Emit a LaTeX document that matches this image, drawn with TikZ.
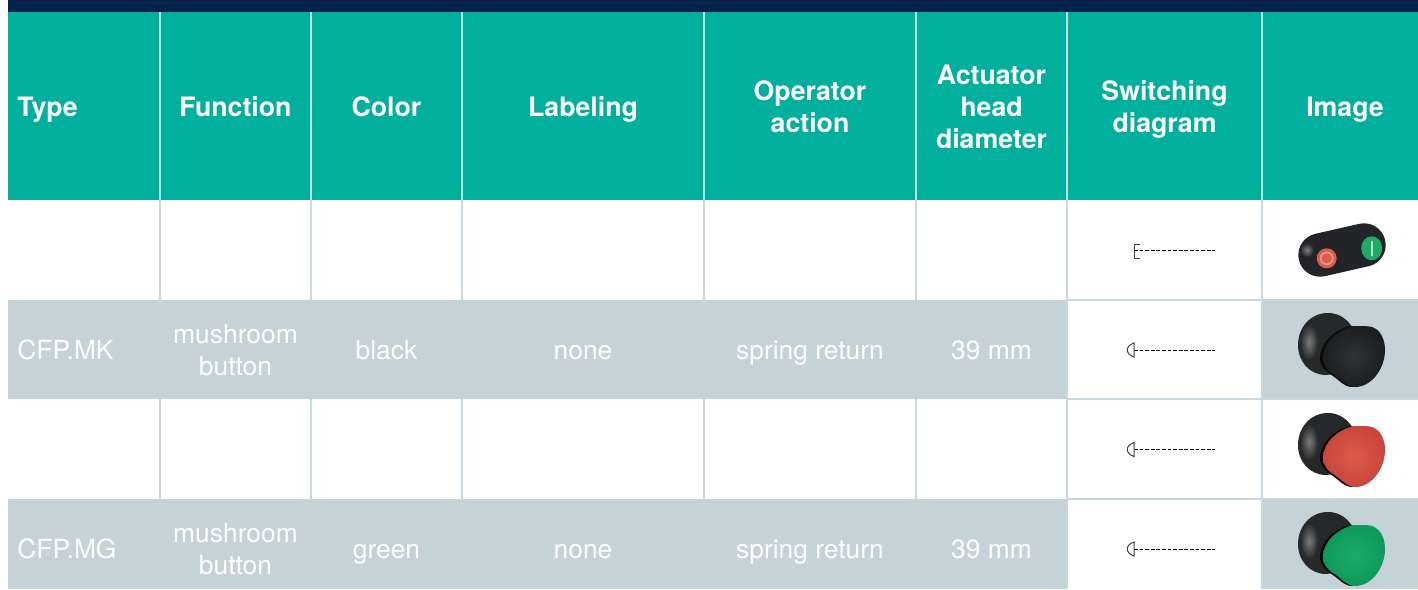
\documentclass[tikz,border=0pt]{standalone}
\usepackage{fontspec}
\setmainfont{TeX Gyre Heros}
\usetikzlibrary{calc}
\definecolor{navy}{HTML}{00234A}
\definecolor{teal1}{HTML}{00B09D}
\definecolor{rowgray}{HTML}{C5D3D9}
\definecolor{gridc}{HTML}{C9D8DE}
\definecolor{capblack}{HTML}{222427}
\definecolor{redA}{HTML}{C9453A}
\definecolor{redB}{HTML}{DB5C4C}
\definecolor{greenA}{HTML}{0E995A}
\definecolor{greenB}{HTML}{1FAA68}
\definecolor{blackA}{HTML}{1C1D1F}
\definecolor{blackB}{HTML}{303235}
\definecolor{rearc}{HTML}{26282A}
\tikzset{
  x=0.5pt,y=-0.5pt,
  head/.style={font=\fontsize{13.35}{16}\selectfont\bfseries,text=white,align=center,inner sep=0pt},
  cell/.style={font=\fontsize{13.2}{16}\selectfont,text=white,align=center,inner sep=0pt},
  grid/.style={gridc,line width=0.6pt},
  sw/.style={black,line width=0.45pt,dash pattern=on 1.9pt off 0.9pt},
  sym/.style={black!75,line width=0.5pt},
}
\newcommand{\cappath}{(283,26) .. controls (292,26) and (298,26) .. (302,27)
    .. controls (311,30) and (315,40) .. (315,50)
    .. controls (315,68) and (302,87) .. (285,87)
    .. controls (277,87) and (272,80) .. (266,76)
    .. controls (258,71) and (253,66) .. (253,58)
    .. controls (253,42) and (268,30) .. (283,26) -- cycle}
\newcommand{\mushroom}[3]{% y offset, cap outer, cap inner
\begin{scope}[shift={(1070,#1)}]
  \fill[rearc]
    (258,13) .. controls (240,13) and (228,28) .. (228,45)
    .. controls (228,62) and (240,75) .. (256,75)
    .. controls (270,75) and (284,62) .. (286,45)
    .. controls (288,30) and (276,13) .. (258,13) -- cycle;
  \shade[inner color=black!52,outer color=rearc] (239,42) ellipse[x radius=9,y radius=18];
  \fill[black!96,shift={(-3,0)}] \cappath;
  \shade[inner color=#3,outer color=#2] \cappath;
\end{scope}}
\begin{document}
\begin{tikzpicture}
\useasboundingbox (0,0) rectangle (1418,589);
\fill[white] (0,0) rectangle (1418,589);
% bands
\node[fill=navy,inner sep=0pt,minimum width=705pt,minimum height=6pt,anchor=north west] (topband) at (8,0) {};
\node[fill=teal1,inner sep=0pt,minimum width=705pt,minimum height=94pt,anchor=north west] (headband) at (8,12) {};
\node[fill=rowgray,inner sep=0pt,minimum width=529.5pt,minimum height=49.5pt,anchor=north west] (rowA) at (8,300) {};
\node[fill=rowgray,inner sep=0pt,minimum width=529.5pt,minimum height=45pt,anchor=north west] (rowB) at (8,499) {};
\node[fill=rowgray,inner sep=0pt,minimum width=78pt,minimum height=49.5pt,anchor=north west] (imgA) at (1262,300) {};
\node[fill=rowgray,inner sep=0pt,minimum width=78pt,minimum height=45pt,anchor=north west] (imgB) at (1262,499) {};
% grid
\foreach \x in {160,311,462,704,916,1067,1262}{
  \draw[white!75!teal1,line width=0.6pt] (\x,12) -- (\x,200);
}
\foreach \x in {160,311,462,704,916}{
  \draw[grid] (\x,200) -- (\x,300);
  \draw[grid] (\x,399) -- (\x,499);
}
\draw[grid] (1067,200) -- (1067,589);
\draw[grid] (1262,200) -- (1262,589);
\draw[grid] (1067,300) -- (1418,300);
\draw[grid] (1067,399) -- (1418,399);
\draw[grid] (1067,499) -- (1418,499);
% header
\node[head,anchor=base west] (hType) at (17,116) {Type};
\node[head,anchor=base] (hFunc) at (235.5,116) {Function};
\node[head,anchor=base] (hColor) at (386.5,116) {Color};
\node[head,anchor=base] (hLab) at (583,116) {Labeling};
\node[head] (hOp) at (810,107) {Operator\\action};
\node[head] (hAct) at (991.5,107) {Actuator\\head\\diameter};
\node[head] (hSw) at (1164.5,109) {Switching\\diagram};
\node[head,anchor=base] (hImg) at (1345,116) {Image};
% row A
\node[cell,anchor=base west] (aType) at (17,359) {CFP.MK};
\node[cell] (aFunc) at (235.5,350) {mushroom\\button};
\node[cell,anchor=base] (aColor) at (386.5,359) {black};
\node[cell,anchor=base] (aLab) at (583,359) {none};
\node[cell,anchor=base] (aOp) at (810,359) {spring return};
\node[cell,anchor=base] (aDia) at (991.5,359) {39 mm};
% row B
\node[cell,anchor=base west] (bType) at (17,558) {CFP.MG};
\node[cell] (bFunc) at (235.5,549) {mushroom\\button};
\node[cell,anchor=base] (bColor) at (386.5,558) {green};
\node[cell,anchor=base] (bLab) at (583,558) {none};
\node[cell,anchor=base] (bOp) at (810,558) {spring return};
\node[cell,anchor=base] (bDia) at (991.5,558) {39 mm};
% switching symbols
\draw[sw] (1134,250) -- (1215,250);
\draw[sym] (1140,244) -- (1134,244) -- (1134,258.5) -- (1140,258.5);
\foreach \y in {350,449.5,549}{
  \draw[sw] (1134,\y) -- (1215,\y);
  \draw[sym] (1134,\y-7) -- (1134,\y+7) .. controls (1125,\y+4) and (1125,\y-4) .. (1134,\y-7) -- cycle;
}
% pill button
\draw[capblack,line width=21.7pt,line cap=round] (1320,255) -- (1364,245);
\shade[inner color=black!50,outer color=capblack] (1307,250) circle[radius=7];
\fill[redB] (1326.7,258.3) circle[radius=10];
\draw[white!35!redB,line width=0.9pt] (1326.7,258.3) circle[radius=6];
\fill[greenB] (1371.7,248.3) ellipse[x radius=10.5,y radius=12];
\draw[white!70!greenA,line width=1.2pt] (1371.7,241) -- (1371.7,255.5);
% mushroom buttons
\mushroom{300}{blackA}{blackB}
\mushroom{400}{redA}{redB}
\mushroom{499}{greenA}{greenB}
\end{tikzpicture}
\end{document}
